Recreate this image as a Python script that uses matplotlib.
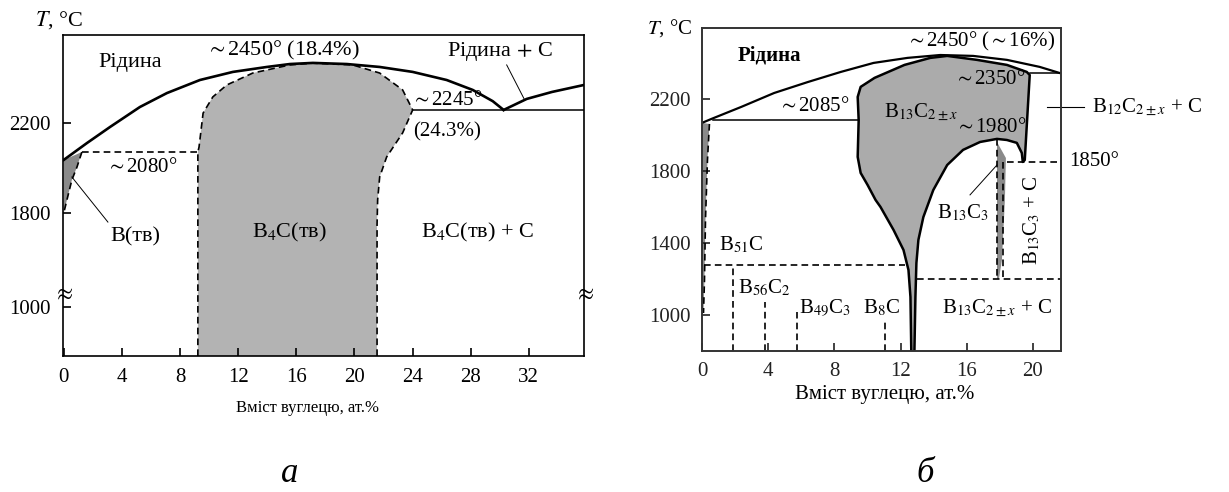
import numpy as np
import matplotlib
matplotlib.use('Agg')
import matplotlib.pyplot as plt

plt.rcParams['font.family'] = ['Liberation Serif', 'DejaVu Serif']
plt.rcParams['mathtext.fontset'] = 'stix'

# ---------------- panel a: B - C (broken T axis) ----------------
a_xticks = [0, 4, 8, 12, 16, 20, 24, 28, 32]
a_yticks = [1000, 1800, 2200]
a_xlim = (-0.05, 35.8)
a_ylim = (583, 2591)

# liquidus, boron side up to the eutectic with C
a_liq_x = [0, 1.6, 3.18, 5.24, 7.1, 9.37, 11.64, 13.98, 15.56, 17.14, 19.48, 21.74, 24.01, 26.35, 28.14, 29.52, 30.27]
a_liq_t = [2036, 2111, 2182, 2271, 2333, 2391, 2427, 2449, 2462, 2467, 2462, 2449, 2427, 2391, 2347, 2297, 2258]
# liquidus, carbon side
a_liqc_x = [30.27, 31.86, 33.6, 35.8]
a_liqc_t = [2258, 2307, 2338, 2369]
# eutectics
a_eutc_x = [24.01, 35.8]
a_eutc_t = [2258, 2258]
a_eutb_x = [1.25, 9.23]
a_eutb_t = [2071, 2071]
# B(s) solid solution
a_bsol_x = [0, 1.25, 0.91, 0.56, 0.22, 0]
a_bsol_t = [2036, 2071, 2004, 1947, 1858, 1800]
# B4C homogeneity region
a_b4c_x = [9.23, 9.23, 9.31, 9.59, 10.26, 11.22, 13.01, 15.56, 17.1, 19.89, 21.74, 23.32, 24.01,
           23.32, 22.22, 21.74, 21.6, 21.56, 21.56]
a_b4c_t = [583, 2071, 2093, 2244, 2316, 2369, 2422, 2458, 2466, 2458, 2422, 2347, 2258,
           2156, 2049, 1960, 1858, 1700, 583]

# ---------------- panel b: B - C ----------------
b_xticks = [0, 4, 8, 12, 16, 20]
b_yticks = [1000, 1400, 1800, 2200]
b_xlim = (0, 21.7)
b_ylim = (800, 2594)

b_liq_x = [0, 0.57, 2.38, 4.36, 6.4, 8.39, 10.37, 12.42, 14.4, 16.39, 18.43, 20.41, 21.62]
b_liq_t = [2067, 2089, 2156, 2233, 2294, 2350, 2400, 2428, 2444, 2439, 2417, 2378, 2344]
b_eutb_x = [0.69, 9.41]
b_eutb_t = [2083, 2083]
b_eutc_x = [19.81, 21.7]
b_eutc_t = [2344, 2344]
# B(s) solid solution at left edge
b_bsol_x = [0, 0.45, 0.33, 0.21, 0.15, 0.09, 0]
b_bsol_t = [2067, 2061, 1861, 1528, 1194, 1011, 1011]
# B13C2+-x region (outer boundary incl. the hole above B13C3)
b_reg_x = [12.65, 12.6, 12.48, 12.18, 11.58, 10.79, 10.49, 10.01, 9.59, 9.41, 9.47, 9.41, 9.59,
           10.43, 12.24, 13.8, 14.82, 16.62, 18.43, 19.63, 19.81, 19.51, 19.39, 19.33, 19.03,
           18.43, 17.83, 16.81, 15.78, 14.82, 13.98, 13.38, 13.08, 12.96, 12.9, 12.84]
b_reg_t = [800, 1100, 1250, 1361, 1472, 1600, 1639, 1722, 1789, 1878, 2083, 2211, 2267,
           2317, 2389, 2428, 2439, 2417, 2389, 2350, 2333, 1861, 1850, 1900, 1956,
           1972, 1978, 1961, 1917, 1833, 1694, 1544, 1417, 1289, 1100, 800]
# B13C3 narrow phase
b_b13c3_x = [17.83, 18.37, 18.31, 18.13, 17.95, 17.83]
b_b13c3_t = [1961, 1872, 1639, 1306, 1200, 1200]
# dashed lines
b_h1850_x = [18.43, 21.7]
b_h1850_t = [1850, 1850]
b_h1278_x = [0.15, 12.3]
b_h1278_t = [1278, 1278]
b_h1200_x = [13.0, 21.7]
b_h1200_t = [1200, 1200]
b_v_x = [1.89, 3.82, 5.74, 11.09]
b_v_top = [1278, 1072, 1017, 961]

W, H = 1229, 492
fig = plt.figure(figsize=(W / 100, H / 100), dpi=100)


def px_axes(x0, y0, x1, y1):
    return fig.add_axes([x0 / W, 1 - y1 / H, (x1 - x0) / W, (y1 - y0) / H])


def fx(px):
    return px / W


def fy(py):
    return 1 - py / H


K_BREAK = 0.522


def fwd(t):
    t = np.asarray(t, dtype=float)
    return np.where(t >= 1800, t, 1800 - (1800 - t) * K_BREAK)


def inv(y):
    y = np.asarray(y, dtype=float)
    return np.where(y >= 1800, y, 1800 - (1800 - y) / K_BREAK)


GRAY = '#b3b3b3'
DARK = '#8a8a8a'

# ---- panel a ----
ax = px_axes(63, 35, 584, 356)
ax.set_yscale('function', functions=(fwd, inv))
ax.set_xlim(*a_xlim)
ax.set_ylim(*a_ylim)
ax.set_xticks(a_xticks)
ax.set_yticks(a_yticks)
ax.minorticks_off()
ax.tick_params(direction='in', length=6, width=1.2, labelsize=15, pad=9)
for s in ax.spines.values():
    s.set_linewidth(1.2)

ax.fill(a_b4c_x, a_b4c_t, color=GRAY, lw=0)
ax.plot(a_b4c_x, a_b4c_t, 'k--', lw=1.2, dashes=(4, 2.5))
ax.fill(a_bsol_x, a_bsol_t, color=DARK, lw=0)
ax.plot(a_bsol_x[1:], a_bsol_t[1:], 'k--', lw=1.2, dashes=(4, 2.5))
ax.plot(a_liq_x, a_liq_t, 'k-', lw=1.9)
ax.plot(a_liqc_x, a_liqc_t, 'k-', lw=1.9)
ax.plot(a_eutc_x, a_eutc_t, 'k-', lw=1.1)
ax.plot(a_eutb_x, a_eutb_t, 'k--', lw=1.2, dashes=(4, 2.5))
# leaders
ax.plot([0.56, 3.04], [1960, 1723], 'k-', lw=0.7)
ax.plot([30.48, 31.72], [2458, 2302], 'k-', lw=0.7)

fs = 16
ax.text(4.55, 2467, 'Рідина', fontsize=fs, ha='center', va='center')
ax.text(15.07, 2524, r'$\sim$2450° (18.4%)', fontsize=fs, ha='center', va='center')
ax.text(30.0, 2516, r'Рідина$\,+\,$C', fontsize=fs, ha='center', va='center')
ax.text(26.35, 2302, r'$\sim$2245°', fontsize=15, ha='center', va='center')
ax.text(26.35, 2160, '(24.3%)', fontsize=15, ha='center', va='center')
ax.text(5.37, 2004, r'$\sim$2080°', fontsize=15, ha='center', va='center')
ax.text(4.9, 1596, 'B(тв)', fontsize=fs, ha='center', va='center')
ax.text(15.55, 1638, r'B$_4$C(тв)', fontsize=fs, ha='center', va='center')
ax.text(28.5, 1638, r'B$_4$C(тв) + C', fontsize=fs, ha='center', va='center')
ax.text(a_xlim[0], 1111, r'$\approx$', fontsize=17, ha='center', va='center')
ax.text(a_xlim[1], 1111, r'$\approx$', fontsize=17, ha='center', va='center')

fig.text(fx(59), fy(20), r'$T$, °C', fontsize=16, ha='center', va='center')
fig.text(fx(308), fy(408), 'Вміст вуглецю, ат.%', fontsize=12, ha='center', va='center')
fig.text(fx(290), fy(474), 'а', fontsize=25, style='italic', ha='center', va='center')

# ---- panel b ----
ax = px_axes(702, 28, 1061, 351)
ax.set_xlim(*b_xlim)
ax.set_ylim(*b_ylim)
ax.set_xticks(b_xticks)
ax.set_yticks(b_yticks)
ax.tick_params(direction='in', length=6, width=1.2, labelsize=15, pad=8, colors='#222222')
for s in ax.spines.values():
    s.set_linewidth(1.4)
    s.set_color('#333333')

dash = (4, 2.5)
ax.fill(b_reg_x, b_reg_t, color='#ababab', lw=0)
ax.plot(b_reg_x, b_reg_t, 'k-', lw=1.8)
ax.fill(b_bsol_x, b_bsol_t, color=DARK, lw=0)
ax.plot(b_bsol_x[1:6], b_bsol_t[1:6], 'k--', lw=1.2, dashes=dash)
ax.fill(b_b13c3_x, b_b13c3_t, color=DARK, lw=0)
ax.plot([b_b13c3_x[0], b_b13c3_x[-1]], [1978, 1200], 'k--', lw=1.2, dashes=dash)
ax.plot([18.2, 18.2], [1850, 1200], 'k--', lw=1.2, dashes=dash)
ax.plot(b_liq_x, b_liq_t, 'k-', lw=1.6)
ax.plot(b_eutb_x, b_eutb_t, 'k-', lw=1.1)
ax.plot(b_eutc_x, b_eutc_t, 'k-', lw=1.1)
ax.plot(b_h1850_x, b_h1850_t, 'k--', lw=1.2, dashes=dash)
ax.plot(b_h1278_x, b_h1278_t, 'k--', lw=1.2, dashes=dash)
ax.plot(b_h1200_x, b_h1200_t, 'k--', lw=1.2, dashes=dash)
for xv, tv in zip(b_v_x, b_v_top):
    ax.plot([xv, xv], [b_ylim[0], tv], 'k--', lw=1.2, dashes=dash)
# leaders
ax.plot([20.84, 23.12], [2156, 2156], 'k-', lw=0.8, clip_on=False)
ax.plot([16.2, 17.83], [1667, 1833], 'k-', lw=0.7)

fs = 15
ax.text(4.06, 2444, 'Рідина', fontsize=fs, ha='center', va='center', fontweight='bold')
ax.text(16.87, 2517, r'$\sim$2450° ($\sim$16%)', fontsize=fs, ha='center', va='center')
ax.text(17.4, 2306, r'$\sim$2350°', fontsize=fs, ha='center', va='center')
ax.text(13.26, 2128, r'B$_{13}$C$_{2\pm x}$', fontsize=fs, ha='center', va='center')
ax.text(17.47, 2044, r'$\sim$1980°', fontsize=fs, ha='center', va='center')
ax.text(6.77, 2156, r'$\sim$2085°', fontsize=fs, ha='center', va='center')
ax.text(23.6, 2156, r'B$_{12}$C$_{2\pm x}$ + C', fontsize=fs, ha='left', va='center')
ax.text(22.2, 1850, '1850°', fontsize=fs, ha='left', va='center')
ax.text(15.78, 1567, r'B$_{13}$C$_3$', fontsize=fs, ha='center', va='center')
ax.text(19.93, 1528, r'B$_{13}$C$_3$ + C', fontsize=fs, ha='center', va='center', rotation=90)
ax.text(17.83, 1039, r'B$_{13}$C$_{2\pm x}$ + C', fontsize=fs, ha='center', va='center')
ax.text(2.38, 1389, r'B$_{51}$C', fontsize=fs, ha='center', va='center')
ax.text(3.76, 1150, r'B$_{56}$C$_2$', fontsize=fs, ha='center', va='center')
ax.text(7.43, 1039, r'B$_{49}$C$_3$', fontsize=fs, ha='center', va='center')
ax.text(10.85, 1039, r'B$_8$C', fontsize=fs, ha='center', va='center')

fig.text(fx(670), fy(28), r'$T$, °C', fontsize=15, ha='center', va='center')
fig.text(fx(885), fy(395), 'Вміст вуглецю, ат.%', fontsize=15, ha='center', va='center')
fig.text(fx(925), fy(474), 'б', fontsize=25, style='italic', ha='center', va='center')

fig.savefig('out.png', dpi=100)
